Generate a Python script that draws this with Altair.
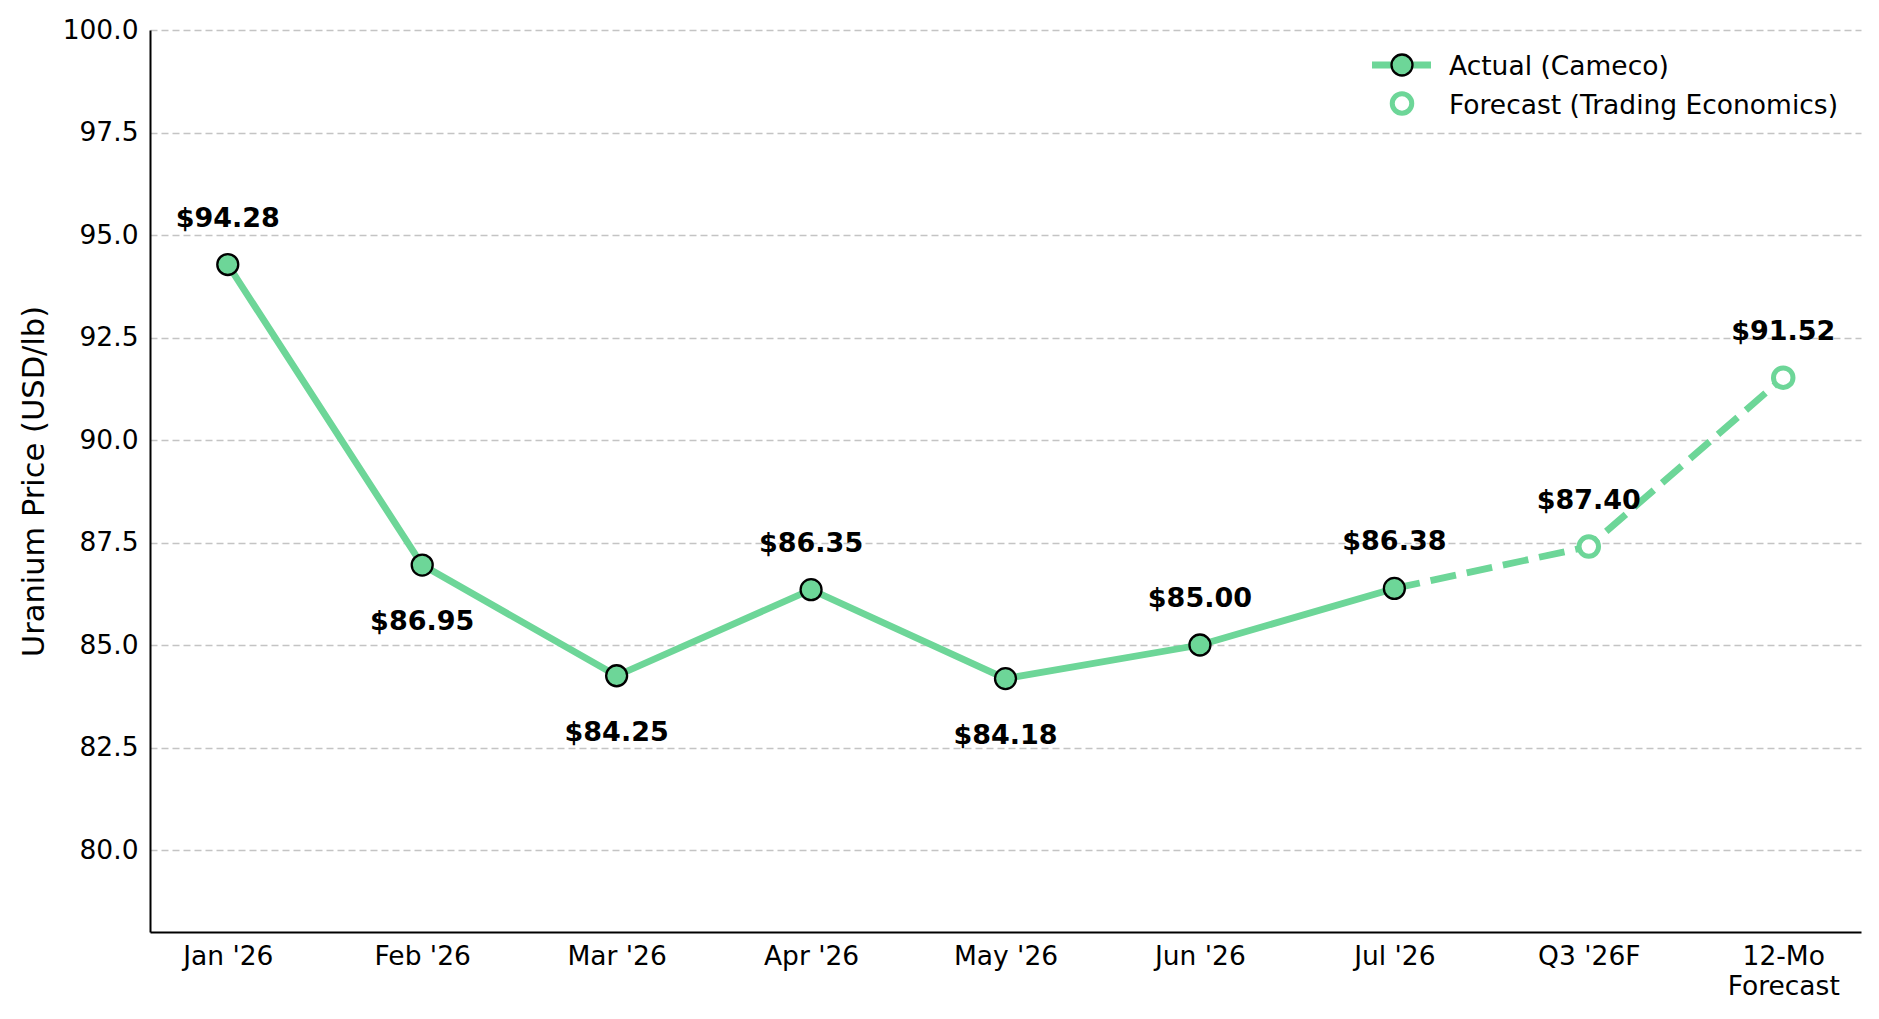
import json
import altair as alt
import pandas as pd

# ---------------- data ----------------
categories = ["Jan '26", "Feb '26", "Mar '26", "Apr '26", "May '26",
              "Jun '26", "Jul '26", "Q3 '26F", "12-Mo Forecast"]
tick_labels = [["Jan '26"], ["Feb '26"], ["Mar '26"], ["Apr '26"], ["May '26"],
               ["Jun '26"], ["Jul '26"], ["Q3 '26F"], ["12-Mo", "Forecast"]]
prices = [94.28, 86.95, 84.25, 86.35, 84.18, 85.00, 86.38, 87.40, 91.52]
kinds = ["Actual", "Actual", "Actual", "Actual", "Actual", "Actual", "Actual",
         "Forecast", "Forecast"]
label_side = ["above", "below", "below", "above", "below", "above", "above",
              "above", "above"]
legend_labels = ["Actual (Cameco)", "Forecast (Trading Economics)"]
y_ticks = [80.0, 82.5, 85.0, 87.5, 90.0, 92.5, 95.0, 97.5, 100.0]
y_title = "Uranium Price (USD/lb)"

GREEN = "#6dd698"
FONT = "DejaVu Sans"

df = pd.DataFrame({
    "idx": list(range(len(categories))),
    "cat": categories,
    "price": prices,
    "kind": kinds,
    "side": label_side,
})
actual_df = df[df["kind"] == "Actual"]
forecast_pts_df = df[df["kind"] == "Forecast"]
forecast_line_df = df[df["idx"] >= 6]

label_expr = json.dumps(tick_labels) + "[datum.value]"

x_enc = alt.X("idx:Q",
              scale=alt.Scale(domain=[-0.4, 8.4], nice=False, zero=False),
              axis=alt.Axis(values=list(range(9)), labelExpr=label_expr,
                            title=None, grid=False, ticks=False, tickSize=0,
                            labelPadding=11, labelLineHeight=30,
                            labelOverlap=False, labelFlush=False,
                            labelFontSize=26.5))
y_enc = alt.Y("price:Q",
              scale=alt.Scale(domain=[78, 100], nice=False, zero=False),
              axis=alt.Axis(values=y_ticks, format=".1f", title=y_title,
                            grid=True, gridDash=[7, 4], gridColor="#c4c4c4",
                            gridWidth=1.3, ticks=False, tickSize=0,
                            labelPadding=12, labelFontSize=26.5,
                            titleFontSize=30.5, titleFontWeight="normal",
                            titleX=-107, titleY=451, titleAngle=-90,
                            titleBaseline="alphabetic", titleAlign="center"))

actual_line = alt.Chart(actual_df).mark_line(
    color=GREEN, strokeWidth=6.8).encode(x=x_enc, y=y_enc)

forecast_line = alt.Chart(forecast_line_df).mark_line(
    color=GREEN, strokeWidth=6.8, strokeDash=[26, 11]).encode(x="idx:Q", y="price:Q")

actual_pts = alt.Chart(actual_df).mark_point(
    shape="circle", fill=GREEN, stroke="black", strokeWidth=2.3,
    size=440, opacity=1, fillOpacity=1).encode(x="idx:Q", y="price:Q")

forecast_pts = alt.Chart(forecast_pts_df).mark_point(
    shape="circle", fill="white", stroke=GREEN, strokeWidth=5,
    size=380, opacity=1, fillOpacity=1).encode(x="idx:Q", y="price:Q")

lbl_base = alt.Chart(df).transform_calculate(
    lbl="'$' + format(datum.price, '.2f')")

labels_above = lbl_base.transform_filter(alt.datum.side == "above").mark_text(
    dy=-38, baseline="alphabetic", align="center", fontWeight="bold",
    fontSize=27, font=FONT, color="black").encode(
    x="idx:Q", y="price:Q", text="lbl:N")

labels_below = lbl_base.transform_filter(alt.datum.side == "below").mark_text(
    dy=65, baseline="alphabetic", align="center", fontWeight="bold",
    fontSize=27, font=FONT, color="black").encode(
    x="idx:Q", y="price:Q", text="lbl:N")

# ---------------- legend (manual) ----------------
leg1 = pd.DataFrame({"t": [legend_labels[0]]})
leg2 = pd.DataFrame({"t": [legend_labels[1]]})

leg_rule = alt.Chart(leg1).mark_rule(color=GREEN, strokeWidth=6.8).encode(
    x=alt.value(1222), x2=alt.value(1281), y=alt.value(35))
leg_pt1 = alt.Chart(leg1).mark_point(
    shape="circle", fill=GREEN, stroke="black", strokeWidth=2.3,
    size=440, opacity=1, fillOpacity=1).encode(x=alt.value(1252), y=alt.value(35))
leg_pt2 = alt.Chart(leg2).mark_point(
    shape="circle", fill="white", stroke=GREEN, strokeWidth=5,
    size=380, opacity=1, fillOpacity=1).encode(x=alt.value(1252), y=alt.value(73.5))
leg_txt1 = alt.Chart(leg1).mark_text(
    align="left", baseline="alphabetic", fontSize=26.5, font=FONT,
    color="black").encode(x=alt.value(1299), y=alt.value(45), text="t:N")
leg_txt2 = alt.Chart(leg2).mark_text(
    align="left", baseline="alphabetic", fontSize=26.5, font=FONT,
    color="black").encode(x=alt.value(1299), y=alt.value(83.5), text="t:N")

chart = alt.layer(
    actual_line, forecast_line, actual_pts, forecast_pts,
    labels_above, labels_below,
    leg_rule, leg_pt1, leg_pt2, leg_txt1, leg_txt2,
).properties(
    width=1711, height=902,
    autosize=alt.AutoSizeParams(type="none"),
    padding={"left": 142, "top": 22, "right": 10, "bottom": 78},
    background="white",
).configure_view(stroke=None).configure_axis(
    domainColor="black", domainWidth=2, labelColor="black",
    titleColor="black", labelFont=FONT, titleFont=FONT,
).configure_text(font=FONT)

chart.save("out.html", embed_options={"renderer": "svg", "actions": False})
